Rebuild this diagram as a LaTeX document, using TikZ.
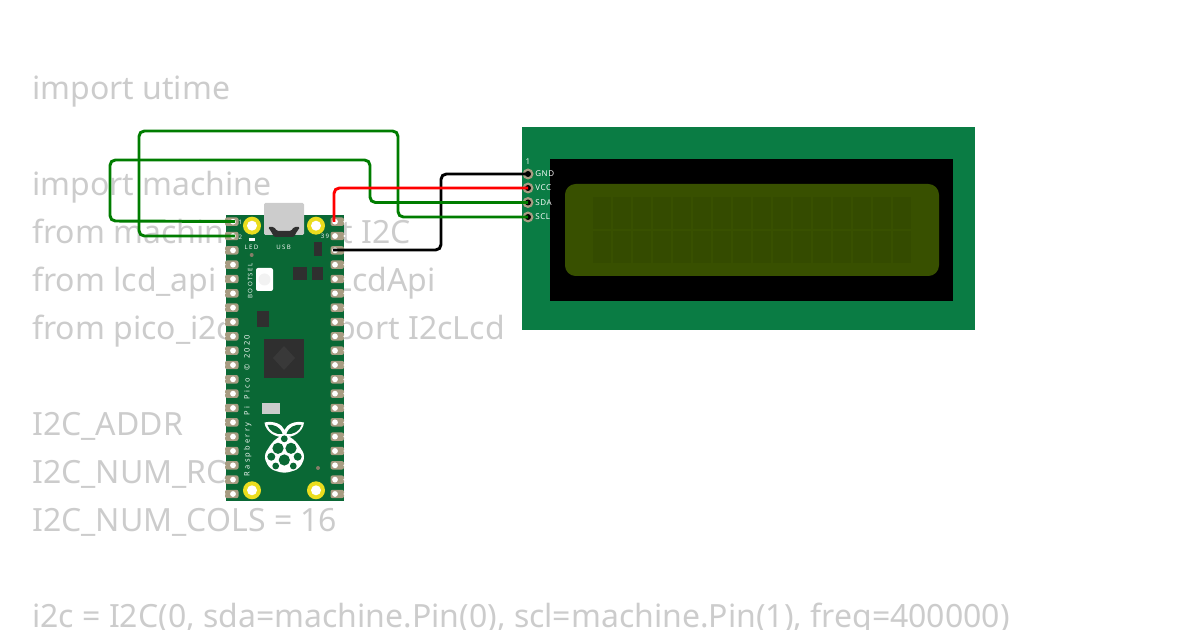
\documentclass[tikz,border=0pt]{standalone}
\usepackage{fontspec}
\setmainfont{Noto Sans}
\newfontfamily\boardfont[LetterSpace=22]{Open Sans}
\newfontfamily\silkfont[LetterSpace=30]{Open Sans}
\newfontfamily\lcdfont[LetterSpace=8]{Open Sans}
\definecolor{codegray}{HTML}{CCCCCC}
\definecolor{pcbgreen}{HTML}{0A6835}
\definecolor{lcdgreen}{HTML}{0A7C44}
\definecolor{padtan}{HTML}{A89C82}
\definecolor{chipdark}{HTML}{2F2F2F}
\definecolor{lcdscreen}{HTML}{385000}
\definecolor{lcdcell}{HTML}{344B00}
\definecolor{holeyellow}{HTML}{EBDD1E}
\definecolor{wiregreen}{HTML}{007D00}
\tikzset{
	codeline/.style={anchor=base west,inner sep=0pt,text=codegray,font=\fontsize{24}{24}\selectfont},
	wire/.style={line width=2.2pt,rounded corners=4pt},
	boardlabel/.style={inner sep=0pt,text=white,font=\boardfont\fontsize{4.6}{5}\selectfont},
	lcdlabel/.style={anchor=west,inner sep=0pt,text=white,font=\lcdfont\fontsize{6}{6}\selectfont},
	chip/.style={fill=chipdark},
}
\begin{document}
\begin{tikzpicture}[x=0.75pt,y=0.75pt,yscale=-1,xscale=1]
	\clip (0,0) rectangle (1200,630);
	\node[codeline] (utime) at (32,100) {import utime};
	\node[codeline] (machine) at (32,196) {import machine};
	\node[codeline] (fromi2c) at (32,244) {from machine import I2C};
	\node[codeline] (lcdapi) at (32,292) {from lcd\_api import LcdApi};
	\node[codeline] (picolcd) at (32,340) {from pico\_i2c\_lcd import I2cLcd};
	\node[codeline] (addr) at (32,436) {I2C\_ADDR};
	\node[codeline] (rows) at (32,484) {I2C\_NUM\_ROWS = 2};
	\node[codeline] (cols) at (32,532) {I2C\_NUM\_COLS = 16};
	\node[codeline] (i2c) at (32,628) {i2c = I2C(0, sda=machine.Pin(0), scl=machine.Pin(1), freq=400000)};

	\fill[lcdgreen] (522,127) rectangle (975,330);
	\fill[black] (550,159) rectangle (953,301);
	\fill[lcdscreen,rounded corners=8pt] (565,184) rectangle (939,276);
	\foreach \col in {0,...,15} {
		\fill[lcdcell] ({593+20*\col},197) rectangle +(18,32);
		\fill[lcdcell] ({593+20*\col},231) rectangle +(18,32);
	}
	\foreach \name/\row/\txt in {gnd/174/GND,vcc/188/VCC,sda/202.5/SDA,scl/217/SCL} {
		\fill[padtan] (528,\row) circle (5.5);
		\fill[black] (528,\row) circle (3);
		\coordinate (\name) at (528,\row);
		\node[lcdlabel] (\name label) at (535,\row) {\txt};
	}
	\node[lcdlabel,anchor=center] (lcdone) at (528,162) {1};

	\fill[pcbgreen] (226,215) rectangle (343.5,501.5);
	\foreach \pin in {1,...,20} {
		\pgfmathsetmacro{\pady}{221.7+14.33*(\pin-1)}
		\fill[padtan,rounded corners=1.5pt] (225,\pady-4.2) rectangle (238.5,\pady+4.2);
		\fill[padtan,rounded corners=1.5pt] (330.5,\pady-4.2) rectangle (344,\pady+4.2);
		\fill[white] (233,\pady) circle (2.9);
		\fill[white] (335,\pady) circle (2.9);
		\fill[white] (224.5,\pady) circle (1.2);
		\fill[white] (344.5,\pady) circle (1.2);
	}
	\foreach \hx/\hy in {252/225.7,316/225.7,252/490.3,316/490.3} {
		\fill[holeyellow] (\hx,\hy) circle (9);
		\fill[white] (\hx,\hy) circle (5);
	}
	\fill[codegray,rounded corners=1pt] (264,203) rectangle (304,235);
	\fill[chipdark,rounded corners=1pt] (268,227) -- (274,227) -- (277,231) -- (291,231) -- (294,227) -- (300,227) -- (296,233) -- (294,237) -- (274,237) -- (272,233) -- cycle;
	\fill[white] (249,238.5) rectangle (255,241.5);
	\fill[padtan!80!black] (251.7,255) circle (2);
	\fill[padtan!80!black] (318,468) circle (2);
	\fill[white,rounded corners=1.5pt] (256,268) rectangle (273,291);
	\fill[codegray!25!white] (264.5,279.5) circle (6);
	\fill[chip] (293.3,266.7) rectangle (307.3,280);
	\fill[chip] (312,266.7) rectangle (323.3,280);
	\fill[chip] (313.7,242.3) rectangle (321.7,255.7);
	\fill[chip] (257,311) rectangle (268.7,327.3);
	\fill[chip] (264.3,338.7) rectangle (303.7,377.7);
	\fill[chipdark!95!white] (284,346) -- (295,358) -- (284,370) -- (273,358) -- cycle;
	\fill[codegray] (262.3,403) rectangle (279.7,413.7);

	\fill[white] (284.5,437) .. controls (276,438) and (265.5,432) .. (264.5,422.5) .. controls (274,420.5) and (282,424) .. (284.5,430) .. controls (287,424) and (295,420.5) .. (304,422.5) .. controls (303,432) and (293,438) .. (284.5,437) -- cycle;
	\fill[pcbgreen] (282.5,434) .. controls (276,435) and (269,431) .. (267.5,425) .. controls (274,424) and (280.5,427) .. (282.5,434) -- cycle;
	\fill[pcbgreen] (286.5,434) .. controls (288.5,427) and (295,424) .. (301.5,425) .. controls (300,431) and (293,435) .. (286.5,434) -- cycle;
	\fill[white,rounded corners=4pt] (284.3,433.5) -- (296,441) -- (305.5,456) -- (299.5,469) -- (284.3,473.5) -- (269.5,469) -- (263.5,456) -- (273,441) -- cycle;
	\foreach \bx/\by/\br in {284.3/438.8/3.4,278/448.3/5.6,291/448.3/5.6,284.3/460/5.6,271.3/456.7/4,297.7/456.7/4,275.7/466/3.4,293.3/466/3.4} {
		\fill[pcbgreen] (\bx,\by) circle (\br);
	}

	\node[boardlabel] (pinone) at (240.5,222) {1};
	\node[boardlabel] (pintwo) at (240.5,237) {2};
	\node[boardlabel] (pinlast) at (325,236.5) {39};
	\node[boardlabel] (led) at (251.5,247) {LED};
	\node[boardlabel] (usb) at (283.5,247) {USB};
	\node[boardlabel,rotate=90] (bootsel) at (250.3,281) {BOOTSEL};
	\node[boardlabel,rotate=90,font=\silkfont\fontsize{5.6}{6}\selectfont] (silk) at (247.7,405.5) {Raspberry\hspace{2.5pt} Pi\hspace{2.5pt} Pico\hspace{2.5pt} ©\hspace{1pt} 2020};

	\coordinate (pin1) at (235,221.5);
	\coordinate (pin2) at (235,236);
	\coordinate (pin40) at (334,222);
	\coordinate (pin38) at (333,250);

	\draw[wire,black] (pin38) -- (441,250) -- (441,174) -- (gnd);
	\draw[wire,wiregreen] (pin1) -- (110,221) -- (110,160) -- (370,160) -- (370,202.5) -- (sda);
	\draw[wire,wiregreen] (pin2) -- (139,236) -- (139,131) -- (398,131) -- (398,217) -- (scl);
	\draw[wire,red] (pin40) -- (334,188) -- (vcc);
\end{tikzpicture}
\end{document}
